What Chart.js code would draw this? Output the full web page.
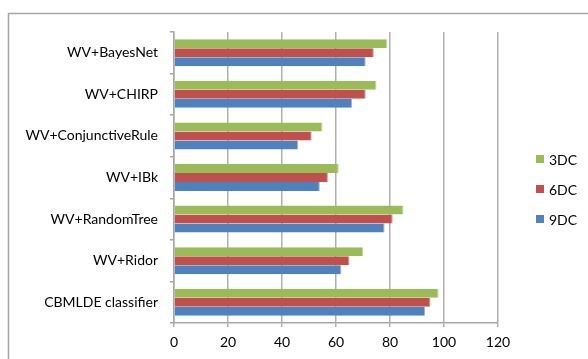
<!DOCTYPE html>
<html>
<head>
<script src="https://cdn.jsdelivr.net/npm/chart.js"></script>
<style>
  body { margin: 0; background: #fff; }
  #wrap { width: 588px; height: 359px; position: relative; }
</style>
</head>
<body>
<div id="wrap"><canvas id="barChart" width="588" height="359"></canvas></div>
<script>
const classifiers = ["WV+BayesNet", "WV+CHIRP", "WV+ConjunctiveRule", "WV+IBk",
  "WV+RandomTree", "WV+Ridor", "CBMLDE classifier"];
const dc3 = [79, 75, 55, 61, 85, 70, 98];
const dc6 = [74, 71, 51, 57, 81, 65, 95];
const dc9 = [71, 66, 46, 54, 78, 62, 93];
const xTicks = [0, 20, 40, 60, 80, 100, 120];

const FONT = { family: "Lato, 'Open Sans', sans-serif", size: 14 };

// frame around the whole chart + legend on the right
const framePlugin = {
  id: 'frame',
  beforeDraw(chart) {
    const ctx = chart.ctx;
    ctx.save();
    ctx.strokeStyle = '#a6a6a6';
    ctx.lineWidth = 1.5;
    ctx.strokeRect(8.5, 13.5, 700, 400);
    ctx.restore();
  },
  afterDraw(chart) {
    const ctx = chart.ctx;
    ctx.save();
    ctx.font = FONT.size + 'px ' + FONT.family;
    ctx.textBaseline = 'middle';
    chart.data.datasets.forEach((ds, i) => {
      const y = 159 + i * 30;
      ctx.fillStyle = ds.backgroundColor;
      ctx.fillRect(536, y - 4, 8, 8);
      ctx.fillStyle = '#000';
      ctx.fillText(ds.label, 549, y + 1);
    });
    ctx.restore();
  }
};

new Chart(document.getElementById('barChart'), {
  type: 'bar',
  data: {
    labels: classifiers,
    datasets: [
      { label: '3DC', data: dc3, backgroundColor: '#9bbb59', borderColor: '#c3d69b', borderWidth: { right: 1 } },
      { label: '6DC', data: dc6, backgroundColor: '#c0504d', borderColor: '#d99694', borderWidth: { right: 1 } },
      { label: '9DC', data: dc9, backgroundColor: '#4f81bd', borderColor: '#95b3d7', borderWidth: { right: 1 } }
    ]
  },
  options: {
    indexAxis: 'y',
    responsive: false,
    animation: false,
    categoryPercentage: 0.65,
    barPercentage: 1,
    layout: { padding: { left: 0, top: 32, right: 90, bottom: 0 } },
    plugins: { legend: { display: false }, tooltip: { enabled: false } },
    scales: {
      x: {
        min: 0, max: 120,
        afterBuildTicks(axis) { axis.ticks = xTicks.map(v => ({ value: v })); },
        afterFit(axis) { axis.height = 36; },
        grid: { color: '#b0b0b0', lineWidth: 1.5, tickLength: 4 },
        border: { color: '#a6a6a6', width: 1.5 },
        ticks: { color: '#000', font: FONT, padding: 7, maxRotation: 0 }
      },
      y: {
        afterFit(axis) { axis.width = 174; },
        grid: { drawOnChartArea: false, color: '#a6a6a6', lineWidth: 1.5, tickLength: 4 },
        border: { color: '#a6a6a6', width: 1.5 },
        ticks: { color: '#000', font: FONT, padding: 12 }
      }
    }
  },
  plugins: [framePlugin]
});
</script>
</body>
</html>
